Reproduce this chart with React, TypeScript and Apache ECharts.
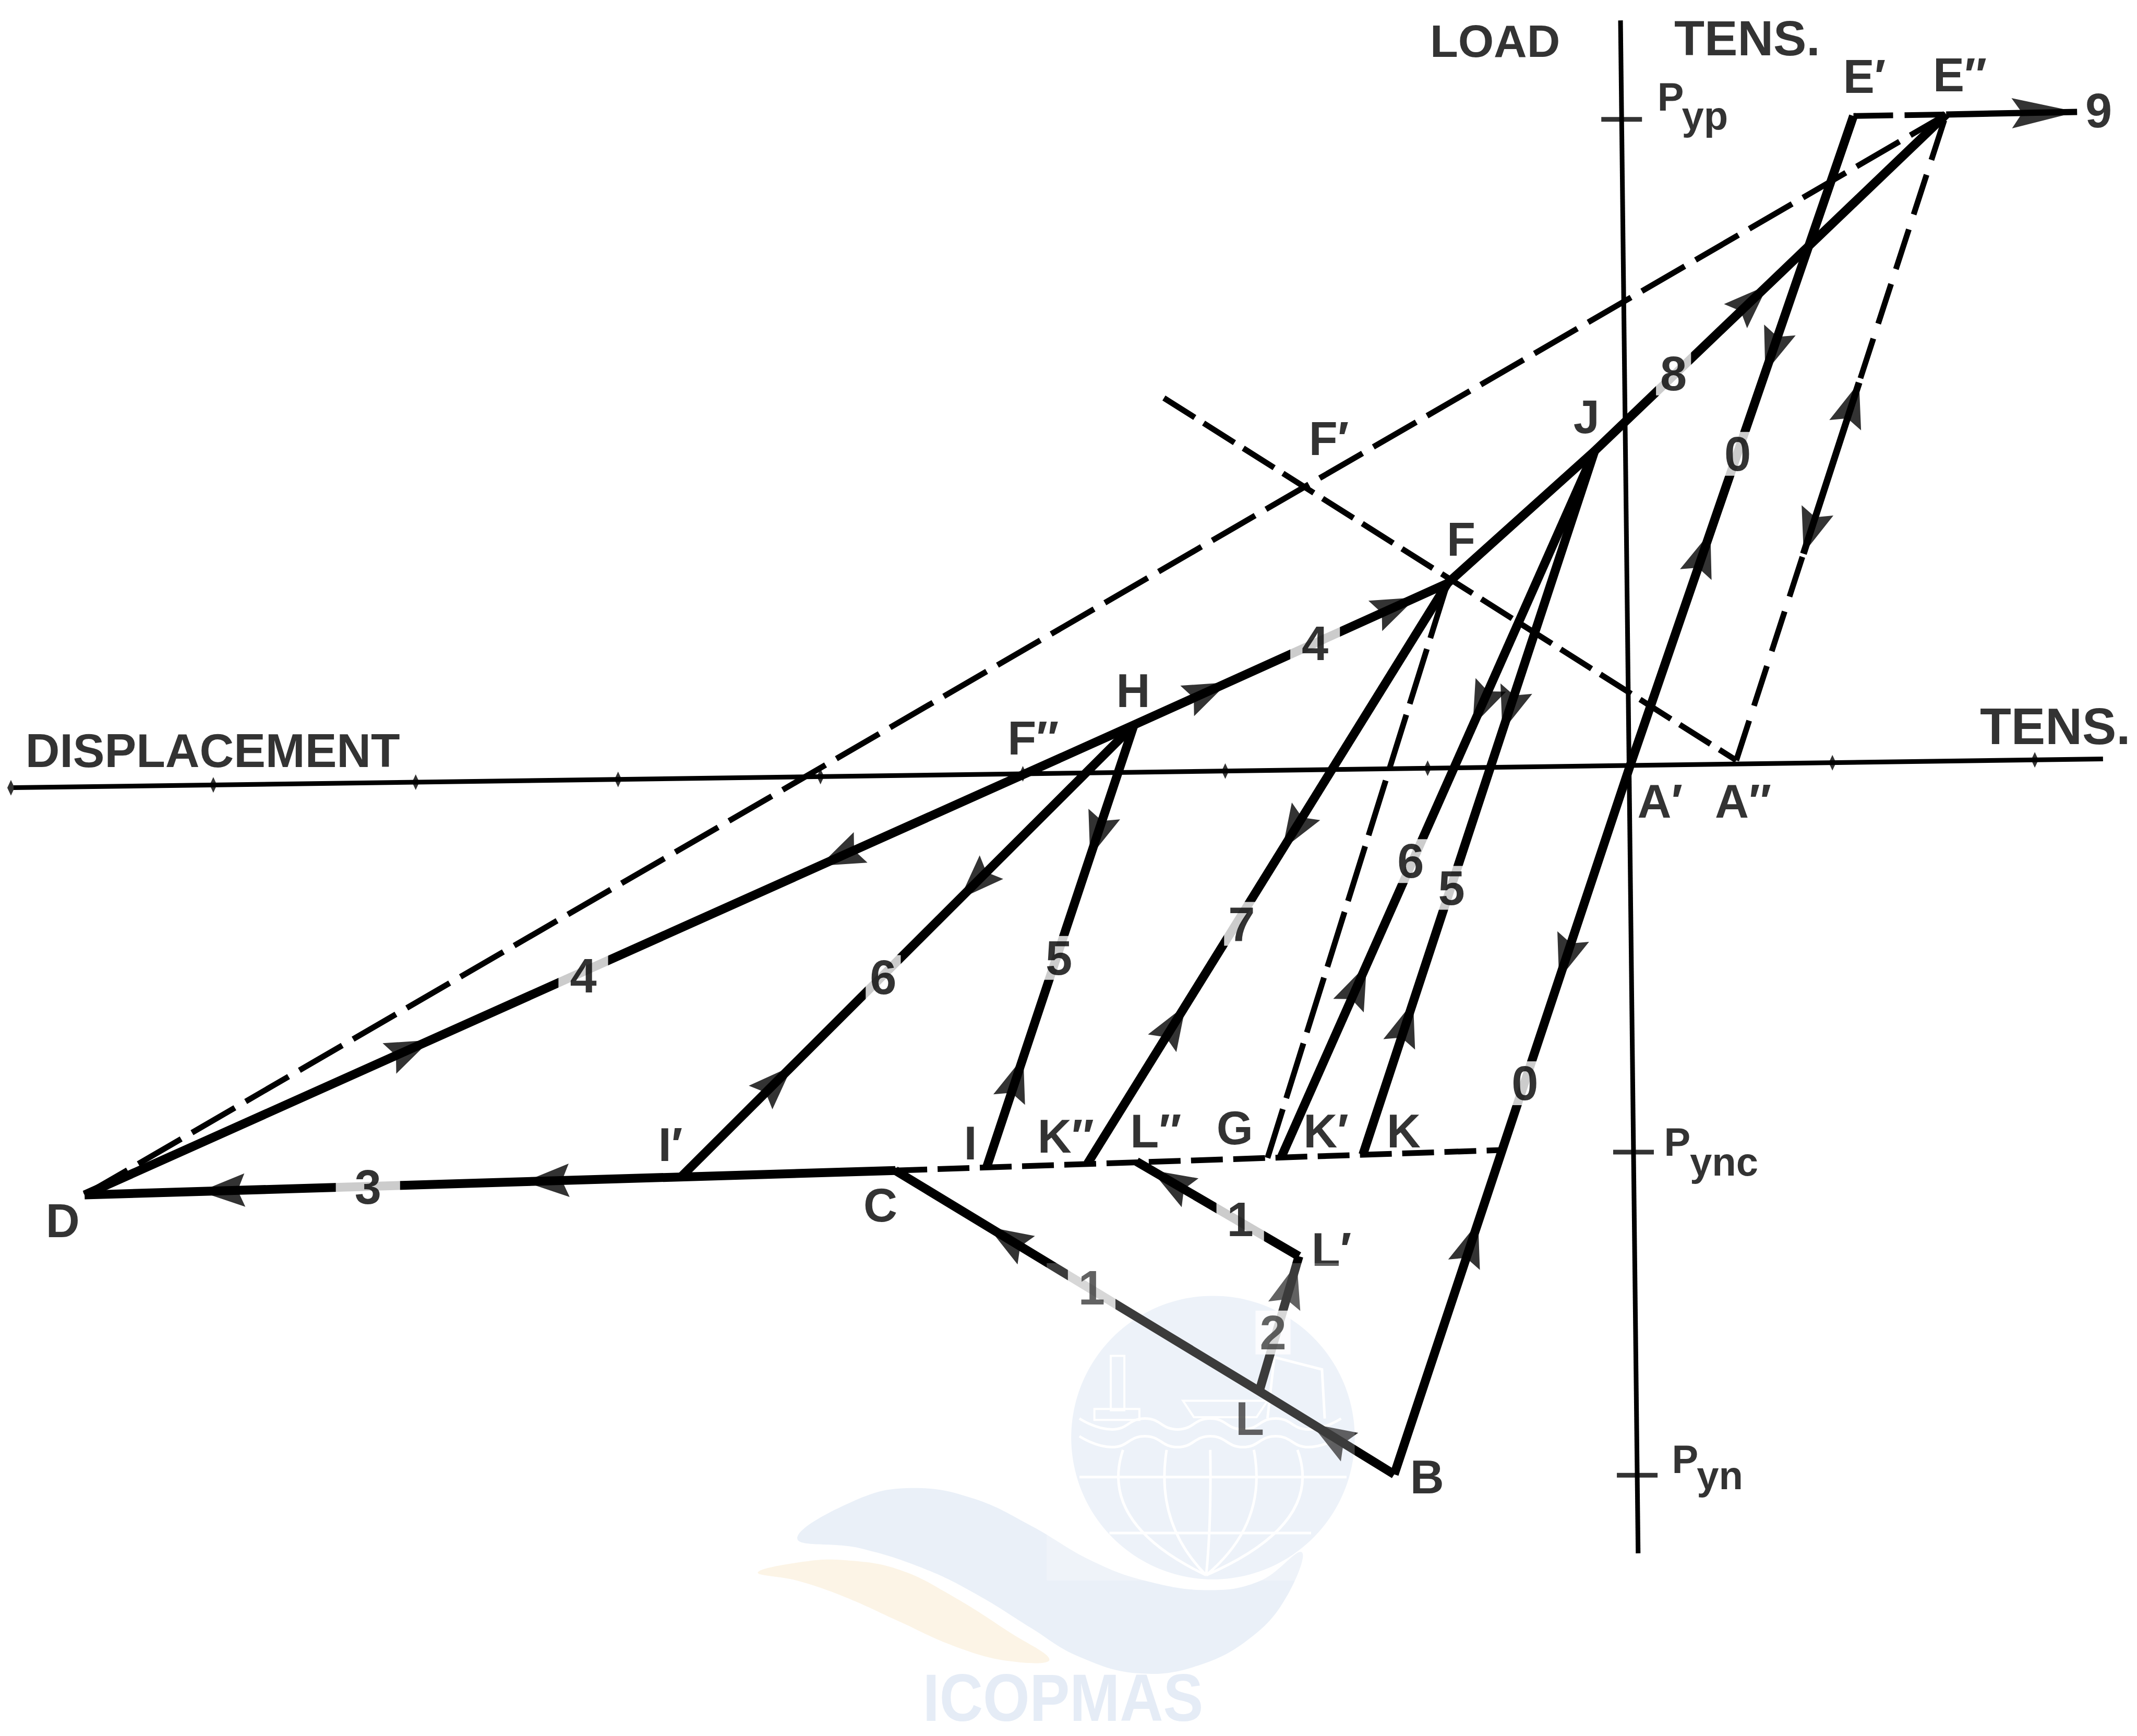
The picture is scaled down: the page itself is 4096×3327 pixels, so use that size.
import React, { useEffect, useRef } from "react";
import * as echarts from "echarts";

const FONT = '"Liberation Sans", Arial, Helvetica, sans-serif';

// View window in axis units (one unit = one displacement tick; load uses the same scale)
const X_MIN = -8.054;
const X_MAX = 2.505;
const Y_MIN = -4.795;
const Y_MAX = 3.785;

// Axis lines (end points) and displacement ticks
const dispAxisEnds = [[-7.987, -0.108], [2.337, 0.034]];
const loadAxisEnds = [[-0.047, 3.684], [0.04, -3.892]];
const dispTicks = [-8, -7, -6, -5, -4, -3, -2, -1, 1, 2];

// Load levels marked on the load axis: P_yp, P_ync, P_yn
const loadLevelNames = ["yp", "ync", "yn"];
const loadLevelValues = [3.195, -1.909, -3.506];
const loadLevelPX = [0.135, 0.168, 0.207];
const loadLevelPY = [3.306, -1.859, -3.428];
const loadLevelSubX = [0.256, 0.296, 0.33];
const loadLevelSubY = [3.215, -1.957, -3.506];

// Vertices of the load–displacement path
const vertexKeys = ["D", "C", "Ip", "B", "A1", "A2", "E1", "E2", "N9", "H", "F", "X", "J", "I", "Kpp", "Lpp", "G", "G6", "Kp", "Kc", "Lp", "L"];
const vertexDisp = [-7.636, -3.63, -4.687, -1.165, 0, 0.525, 1.104, 1.562, 2.209, -2.451, -0.902, -2.303, -0.175, -3.178, -2.68, -2.438, -1.791, -1.724, -1.32, -0.632, -1.636, -1.832];
const vertexLoad = [-2.121, -2.0, -2.03, -3.502, 0, 0.027, 3.212, 3.219, 3.232, 0.202, 0.902, 1.818, 1.556, -1.981, -1.965, -1.956, -1.938, -1.936, -1.922, -1.899, -2.424, -3.091];

// Solid branches and dashed construction lines, as vertex sequences
const solidPaths = [
  ["D", "C"],
  ["D", "H", "F", "J", "E2"],
  ["H", "Ip"],
  ["H", "I"],
  ["F", "Kpp"],
  ["J", "G6"],
  ["J", "Kp"],
  ["E1", "A1", "B"],
  ["B", "L", "C"],
  ["L", "Lp"],
  ["Lp", "Lpp"],
];
const dashedPaths = [["D", "E2"], ["X", "A2"], ["A2", "E2"], ["E1", "E2"], ["C", "Kc"], ["F", "G"]];
const dashPatterns = [[95, 24], [70, 20], [80, 30], [76, 22], [61, 20], [110, 22]];
// Solid stretch on A''–E'' between the two opposing arrows (fractions along the line)
const reversalSpan = [0.32, 0.585];

// Direction arrows: from -> to, placed at a fraction along that segment
const arrowFrom = ["C", "C", "D", "H", "H", "H", "H", "Ip", "H", "I", "F", "Kpp", "J", "G6", "J", "Kp", "A1", "E1", "A1", "B", "J", "A2", "E2", "B", "B", "L", "Lp"];
const arrowTo = ["D", "D", "H", "D", "F", "F", "Ip", "H", "I", "H", "Kpp", "F", "G6", "J", "Kp", "J", "E1", "A1", "B", "A1", "E2", "E2", "A2", "C", "C", "Lp", "Lpp"];
const arrowAt = [0.83, 0.43, 0.31, 0.28, 0.235, 0.835, 0.35, 0.21, 0.25, 0.2, 0.426, 0.24, 0.36, 0.244, 0.368, 0.187, 0.327, 0.362, 0.271, 0.326, 0.447, 0.552, 0.646, 0.776, 0.128, 0.79, 0.79];

// Point names
const pointLabelText = ["D", "C", "I′", "B", "A′", "A″", "E′", "E″", "H", "F", "F′", "F″", "J", "I", "K″", "L″", "G", "K′", "K", "L′", "L"];
const pointLabelX = [-7.744, -3.704, -4.741, -1.003, 0.148, 0.559, 1.158, 1.63, -2.455, -0.835, -1.488, -2.949, -0.215, -3.259, -2.788, -2.343, -1.953, -1.502, -1.118, -1.475, -1.879];
const pointLabelY = [-2.249, -2.172, -1.872, -3.515, -0.175, -0.175, 3.407, 3.414, 0.37, 1.118, 1.616, 0.135, 1.724, -1.865, -1.832, -1.805, -1.791, -1.805, -1.805, -2.391, -3.226];

// Branch numbers
const pathNumberText = ["9", "8", "0", "0", "4", "4", "6", "5", "7", "6", "5", "3", "1", "1", "2"];
const pathNumberX = [2.316, 0.215, 0.532, -0.519, -1.556, -5.172, -3.69, -2.822, -1.919, -1.084, -0.882, -6.236, -1.926, -2.66, -1.764];
const pathNumberY = [3.239, 1.939, 1.542, -1.569, 0.606, -1.037, -1.044, -0.949, -0.781, -0.471, -0.603, -2.081, -2.242, -2.579, -2.801];
const pathNumberPad = [4, 8, 6, 6, 22, 22, 8, 8, 8, 8, 8, 36, 20, 20, 8];

// Axis titles
const axisTitleText = ["LOAD", "TENS.", "DISPLACEMENT", "TENS."];
const axisTitleX = [-0.667, 0.579, -7.003, 2.101];
const axisTitleY = [3.582, 3.596, 0.074, 0.195];
const axisTitleSize = [88, 95, 91, 98];

// Barbed arrowhead, tip at the top
const ARROW = "path://M50,0 L100,100 L50,84 L0,100 Z";

function vertex(k: string): number[] {
  const i = vertexKeys.indexOf(k);
  return [vertexDisp[i], vertexLoad[i]];
}

function lineSeries(pts: number[][], width: number, type: any, z = 3) {
  return {
    type: "line",
    data: pts,
    symbol: "none",
    showSymbol: false,
    silent: true,
    z,
    lineStyle: { color: "#000", width, type, cap: "butt", join: "miter", miterLimit: 20 },
    emphasis: { disabled: true },
  };
}

function textSeries(items: any[], label: any, z = 10) {
  return {
    type: "scatter",
    data: items,
    symbolSize: 1,
    silent: true,
    z,
    itemStyle: { color: "rgba(0,0,0,0)" },
    emphasis: { disabled: true },
    label: Object.assign(
      {
        show: true,
        position: "inside",
        formatter: "{b}",
        color: "#000",
        fontFamily: FONT,
        fontWeight: "bold",
        align: "center",
        verticalAlign: "middle",
      },
      label
    ),
  };
}

// Faint publisher mark in the lower middle of the page (page pixels)
function watermark(W: number, H: number) {
  const SX = W / 1568;
  const SY = H / 1274;
  const pts = (a: number[][]) => a.map(([x, y]) => [x * SX, y * SY]);
  const els: any[] = [];
  const yellow = [[556, 1154], [590, 1146], [620, 1145], [660, 1152], [700, 1172], [741, 1198], [770, 1218], [740, 1219], [700, 1208], [660, 1190], [620, 1172], [585, 1160]];
  const blue = [[585, 1129], [630, 1100], [671, 1092], [715, 1100], [757, 1120], [800, 1145], [840, 1160], [888, 1167], [925, 1160], [955, 1139], [945, 1170], [920, 1200], [880, 1222], [835, 1228], [790, 1215], [757, 1195], [720, 1172], [680, 1152], [630, 1136]];
  els.push({ type: "polygon", z: 0, silent: true, shape: { points: pts(yellow), smooth: 0.4 }, style: { fill: "#fcf4e6" } });
  els.push({ type: "polygon", z: 0, silent: true, shape: { points: pts(blue), smooth: 0.4 }, style: { fill: "#eaf0f8" } });
  els.push({ type: "circle", z: 0, silent: true, shape: { cx: 890 * SX, cy: 1055 * SY, r: 104 * SX }, style: { fill: "#e8eef7" } });
  const white = { stroke: "#fff", lineWidth: 5, fill: null };
  [[1084, 792, 988], [1125, 814, 962]].forEach(([y, x1, x2]) =>
    els.push({ type: "line", z: 0, silent: true, shape: { x1: x1 * SX, y1: y * SY, x2: x2 * SX, y2: y * SY }, style: white })
  );
  [824, 856, 888, 920, 952].forEach((x) =>
    els.push({
      type: "bezierCurve",
      z: 0,
      silent: true,
      shape: { x1: x * SX, y1: 1064 * SY, x2: 885 * SX, y2: 1156 * SY, cpx1: (x + (x - 885) * 0.3) * SX, cpy1: 1118 * SY },
      style: white,
    })
  );
  [1045, 1058].forEach((y) => {
    const w: number[][] = [];
    for (let x = 792, k = 0; x <= 988; x += 24, k++) w.push([x, y + (k % 2 ? 4 : -4)]);
    els.push({ type: "polyline", z: 0, silent: true, shape: { points: pts(w), smooth: 0.5 }, style: white });
  });
  els.push({ type: "rect", z: 0, silent: true, shape: { x: 815 * SX, y: 995 * SY, width: 10 * SX, height: 40 * SY }, style: { stroke: "#fff", lineWidth: 4, fill: null } });
  els.push({ type: "rect", z: 0, silent: true, shape: { x: 803 * SX, y: 1034 * SY, width: 33 * SX, height: 8 * SY }, style: { stroke: "#fff", lineWidth: 4, fill: null } });
  els.push({ type: "polygon", z: 0, silent: true, shape: { points: pts([[868, 1028], [930, 1028], [922, 1040], [876, 1040]]) }, style: { stroke: "#fff", lineWidth: 4, fill: null } });
  els.push({ type: "polyline", z: 0, silent: true, shape: { points: pts([[930, 1041], [935, 996], [970, 1005], [972, 1041]]) }, style: white });
  els.push({
    type: "text",
    z: 0,
    silent: true,
    x: 780 * SX,
    y: 1246 * SY,
    scaleX: 0.9,
    style: { text: "ICOPMAS", fill: "#e5ecf6", fontSize: 128, fontWeight: "bold", fontFamily: FONT, align: "center", verticalAlign: "middle", textAlign: "center", textVerticalAlign: "middle" },
  });
  // translucent panel of the mark, lying over the drawing
  els.push({ type: "rect", z: 50, silent: true, shape: { x: 768 * SX, y: 927 * SY, width: 226 * SX, height: 233 * SY }, style: { fill: "rgba(255,255,255,0.23)" } });
  return els;
}

export default function App() {
  const ref = useRef<HTMLDivElement>(null);

  useEffect(() => {
    const el = ref.current as HTMLDivElement;
    const chart = echarts.init(el, null, { renderer: "svg" });
    const W = el.clientWidth;
    const H = el.clientHeight;

    const [da, db] = dispAxisEnds;
    const yOnDispAxis = (x: number) => da[1] + ((x - da[0]) * (db[1] - da[1])) / (db[0] - da[0]);
    const [la, lb] = loadAxisEnds;
    const xOnLoadAxis = (y: number) => la[0] + ((y - la[1]) * (lb[0] - la[0])) / (lb[1] - la[1]);

    const series: any[] = [];

    // axes
    series.push(lineSeries(dispAxisEnds, 9, "solid", 2));
    series.push(lineSeries(loadAxisEnds, 9, "solid", 2));
    series.push({
      type: "scatter",
      silent: true,
      z: 2,
      symbol: "diamond",
      symbolSize: [14, 30],
      itemStyle: { color: "#000" },
      emphasis: { disabled: true },
      data: dispTicks.map((x) => [x, yOnDispAxis(x)]),
    });
    series.push({
      type: "scatter",
      silent: true,
      z: 2,
      symbol: "rect",
      symbolSize: [78, 9],
      itemStyle: { color: "#000" },
      emphasis: { disabled: true },
      data: loadLevelValues.map((y) => [xOnLoadAxis(y), y]),
    });

    // dashed construction lines
    dashedPaths.forEach((p, i) => series.push(lineSeries(p.map(vertex), 11, dashPatterns[i], 3)));
    {
      const a = vertex("A2");
      const b = vertex("E2");
      const at = (t: number) => [a[0] + t * (b[0] - a[0]), a[1] + t * (b[1] - a[1])];
      series.push(lineSeries([at(reversalSpan[0]), at(reversalSpan[1])], 13, "solid", 4));
    }

    // solid branches
    solidPaths.forEach((p) => series.push(lineSeries(p.map(vertex), 17, "solid", 4)));
    series.push(lineSeries([vertex("E2"), vertex("N9")], 12, "solid", 4));

    // direction arrows
    const arrowItem = (from: string, to: string, t: number, size?: number[]) => {
      const p = vertex(from);
      const q = vertex(to);
      const dx = q[0] - p[0];
      const dy = q[1] - p[1];
      const item: any = {
        value: [p[0] + t * dx, p[1] + t * dy],
        symbolRotate: (Math.atan2(dy, dx) * 180) / Math.PI - 90,
      };
      if (size) item.symbolSize = size;
      return item;
    };
    const arrows = arrowFrom.map((f, i) => arrowItem(f, arrowTo[i], arrowAt[i]));
    arrows.push(arrowItem("E2", "N9", 0.75, [58, 125]));
    series.push({
      type: "scatter",
      silent: true,
      z: 6,
      symbol: ARROW,
      symbolSize: [64, 86],
      symbolKeepAspect: false,
      itemStyle: { color: "#000" },
      emphasis: { disabled: true },
      data: arrows,
    });

    // texts
    series.push(
      textSeries(
        pointLabelText.map((t, i) => ({ name: t, value: [pointLabelX[i], pointLabelY[i]] })),
        { fontSize: 90 }
      )
    );
    series.push(
      textSeries(
        pathNumberText.map((t, i) => ({
          name: t,
          value: [pathNumberX[i], pathNumberY[i]],
          label: { padding: [0, pathNumberPad[i]] },
        })),
        { fontSize: 92, lineHeight: 84, backgroundColor: "#fff" },
        12
      )
    );
    series.push(
      textSeries(
        axisTitleText.map((t, i) => ({ name: t, value: [axisTitleX[i], axisTitleY[i]], label: { fontSize: axisTitleSize[i] } })),
        { fontSize: 90 }
      )
    );
    series.push(
      textSeries(
        loadLevelNames.map((_, i) => ({ name: "P", value: [loadLevelPX[i], loadLevelPY[i]] })),
        { fontSize: 76, align: "left" }
      )
    );
    series.push(
      textSeries(
        loadLevelNames.map((t, i) => ({ name: t, value: [loadLevelSubX[i], loadLevelSubY[i]] })),
        { fontSize: 76, align: "left" }
      )
    );

    chart.setOption({
      animation: false,
      backgroundColor: "#fff",
      grid: { left: 0, right: 0, top: 0, bottom: 0, containLabel: false },
      xAxis: { type: "value", min: X_MIN, max: X_MAX, show: false },
      yAxis: { type: "value", min: Y_MIN, max: Y_MAX, show: false },
      tooltip: { show: false },
      graphic: { elements: watermark(W, H) },
      series,
    });

    return () => chart.dispose();
  }, []);

  return (
    <div
      ref={ref}
      style={{ position: "absolute", left: 0, top: 0, width: 4096, height: 3327, background: "#fff" }}
    />
  );
}
